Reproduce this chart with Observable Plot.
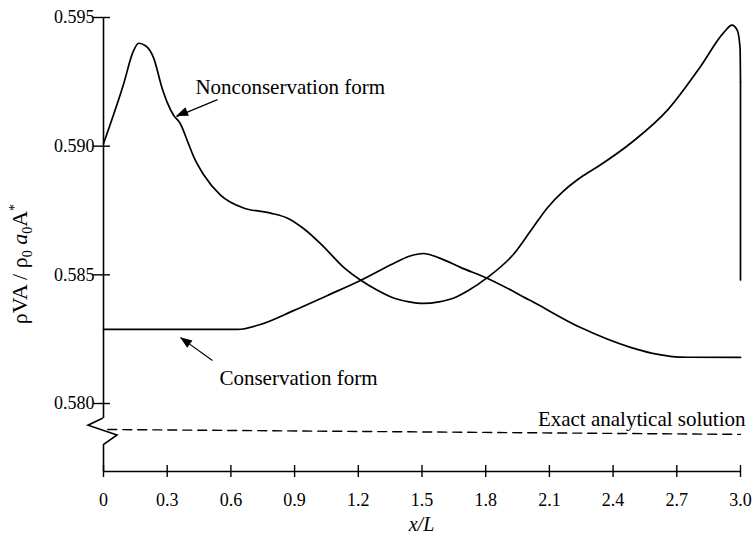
<!DOCTYPE html>
<html><head><meta charset="utf-8">
<script src="https://cdn.jsdelivr.net/npm/d3@7"></script>
<script src="https://cdn.jsdelivr.net/npm/@observablehq/plot@0.6"></script>
<style>
body{margin:0;background:#fff;}
#chart svg text{font-family:'Liberation Serif','Times New Roman',serif !important;}
</style>
</head><body><div id="chart"></div>
<script>
// Nonconservation form
const ncX = [0, 0.094, 0.141, 0.165, 0.198, 0.235, 0.278, 0.300, 0.330, 0.360, 0.400, 0.424, 0.471, 0.551, 0.659, 0.787, 0.867, 0.942, 1.036, 1.130, 1.210, 1.290, 1.366, 1.440, 1.507, 1.580, 1.650, 1.720, 1.809, 1.931, 2.011, 2.090, 2.166, 2.250, 2.327, 2.496, 2.656, 2.812, 2.920, 2.960, 2.985, 2.998, 3.0, 3.0];
const ncY = [0.5901, 0.5924, 0.5937, 0.5940, 0.5939, 0.59345, 0.5922, 0.5917, 0.5912, 0.5909, 0.5901, 0.5896, 0.5889, 0.5881, 0.5876, 0.5874, 0.5872, 0.5868, 0.5861, 0.5853, 0.5848, 0.5844, 0.5841, 0.58395, 0.58389, 0.58395, 0.5841, 0.5844, 0.5849, 0.5858, 0.5867, 0.5876, 0.58825, 0.5888, 0.5892, 0.5902, 0.5914, 0.5931, 0.5944, 0.5947, 0.5945, 0.5938, 0.5925, 0.5848];
// Conservation form
const cX = [0, 0.3, 0.631, 0.739, 0.895, 1.055, 1.210, 1.366, 1.440, 1.507, 1.580, 1.681, 1.809, 2.011, 2.247, 2.482, 2.580, 2.656, 2.720, 3.0];
const cY = [0.58288, 0.58288, 0.58288, 0.58307, 0.58361, 0.58420, 0.58478, 0.58544, 0.58572, 0.58583, 0.58566, 0.58529, 0.58486, 0.58400, 0.58295, 0.58218, 0.58196, 0.58185, 0.58180, 0.58179];
// Exact analytical solution
const exactX = [0.02, 3.0];
const exactY = [0.57899, 0.57880];

const xTicks = [0, 0.3, 0.6, 0.9, 1.2, 1.5, 1.8, 2.1, 2.4, 2.7, 3.0];
const xTickLabels = ["0", "0.3", "0.6", "0.9", "1.2", "1.5", "1.8", "2.1", "2.4", "2.7", "3.0"];
const yTicks = [0.580, 0.585, 0.590, 0.595];
const yTickLabels = ["0.580", "0.585", "0.590", "0.595"];

const labelTexts = ["Nonconservation form", "Conservation form", "Exact analytical solution"];

// ---- build tables ----
const nc = ncX.map((x, i) => ({x, y: ncY[i]}));
const cons = cX.map((x, i) => ({x, y: cY[i]}));
const exact = exactX.map((x, i) => ({x, y: exactY[i]}));

const FONT = "'Liberation Serif', 'Times New Roman', serif";
const yMin = 0.577358, yMax = 0.595;
const breakTop = 0.57942, breakBottom = 0.57837;

const annotations = [
  {x: 0.433, y: 0.59228, text: labelTexts[0], anchor: "start"},
  {x: 0.546, y: 0.58097, text: labelTexts[1], anchor: "start"},
  {x: 3.0, y: 0.57938, text: labelTexts[2], anchor: "end"}
];
const arrows = [
  {x1: 0.537, y1: 0.59181, x2: 0.344, y2: 0.59115},
  {x1: 0.513, y1: 0.58167, x2: 0.363, y2: 0.58256}
];

const plot = Plot.plot({
  width: 755,
  height: 541,
  marginLeft: 103,
  marginRight: 15,
  marginTop: 17,
  marginBottom: 70,
  x: {domain: [0, 3], axis: null},
  y: {domain: [yMin, yMax], axis: null},
  style: {background: "#fff", color: "#000", fontFamily: FONT},
  marks: [
    // axes lines
    Plot.ruleY([yMin], {stroke: "#000", strokeWidth: 1.6}),
    Plot.ruleX([0], {y1: breakTop, y2: yMax, stroke: "#000", strokeWidth: 1.6}),
    Plot.ruleX([0], {y1: yMin, y2: breakBottom, stroke: "#000", strokeWidth: 1.6}),
    // tick marks crossing the axes
    Plot.axisY({ticks: yTicks, tickSize: 17, dx: 7, tickFormat: () => "", stroke: "#000", strokeWidth: 1.4}),
    Plot.axisX({ticks: xTicks, tickSize: 12, dy: -6, tickFormat: () => "", stroke: "#000", strokeWidth: 1.4}),
    // tick labels
    Plot.axisY({ticks: yTicks, tickSize: 0, tickPadding: 9, fontSize: 18, fontFamily: FONT, fill: "#000",
      tickFormat: d => yTickLabels[yTicks.indexOf(d)]}),
    Plot.axisX({ticks: xTicks, tickSize: 0, tickPadding: 22, fontSize: 18, fontFamily: FONT, fill: "#000",
      tickFormat: d => xTickLabels[xTicks.indexOf(d)]}),
    // data
    Plot.line(exact, {x: "x", y: "y", stroke: "#000", strokeWidth: 1.4, strokeDasharray: "9,6"}),
    Plot.line(cons, {x: "x", y: "y", stroke: "#000", strokeWidth: 1.7, curve: "monotone-x"}),
    Plot.line(nc.slice(0, -1), {x: "x", y: "y", stroke: "#000", strokeWidth: 1.7, curve: "monotone-x"}),
    Plot.line(nc.slice(-2), {x: "x", y: "y", stroke: "#000", strokeWidth: 1.7}),
    // annotations
    Plot.link(arrows, {x1: "x1", y1: "y1", x2: "x2", y2: "y2", stroke: "#000", strokeWidth: 1.2}),
    Plot.text(annotations.filter(a => a.anchor === "start"), {x: "x", y: "y", text: "text", textAnchor: "start", fontSize: 21, fontFamily: FONT, fill: "#000"}),
    Plot.text(annotations.filter(a => a.anchor === "end"), {x: "x", y: "y", text: "text", textAnchor: "end", dx: 5, fontSize: 21, fontFamily: FONT, fill: "#000"})
  ]
});

document.getElementById("chart").appendChild(plot);

// ---- axis break zigzag, arrowheads and titles ----
const svg = d3.select(plot);
const xs = plot.scale("x"), ys = plot.scale("y");
const ax = xs.apply(0);
const yt = ys.apply(breakTop), yb = ys.apply(breakBottom);
const h = yb - yt;
svg.append("path")
  .attr("d", `M${ax},${yt} L${ax - 15},${yt + h * 0.27} L${ax + 14},${yt + h * 0.63} L${ax},${yb}`)
  .attr("fill", "none").attr("stroke", "#000").attr("stroke-width", 1.6);

for (const a of arrows) {
  const px1 = xs.apply(a.x1), py1 = ys.apply(a.y1);
  const px2 = xs.apply(a.x2), py2 = ys.apply(a.y2);
  const ang = Math.atan2(py2 - py1, px2 - px1);
  const L = 12, W = 4.5;
  const bx = px2 - L * Math.cos(ang), by = py2 - L * Math.sin(ang);
  const nx = -Math.sin(ang) * W, ny = Math.cos(ang) * W;
  svg.append("path")
    .attr("d", `M${px2},${py2} L${bx + nx},${by + ny} L${bx - nx},${by - ny} Z`)
    .attr("fill", "#000");
}

const yt2 = svg.append("text")
  .attr("transform", `translate(27,${ys.apply(0.5854)}) rotate(-90)`)
  .attr("text-anchor", "middle").attr("font-size", 22).attr("fill", "#000")
  .attr("font-family", FONT);
yt2.append("tspan").text("ρVA / ρ");
yt2.append("tspan").attr("font-size", 14).attr("dy", 5).text("0");
yt2.append("tspan").attr("dy", -5).text(" ");
yt2.append("tspan").attr("font-style", "italic").text("a");
yt2.append("tspan").attr("font-size", 14).attr("dy", 5).text("0");
yt2.append("tspan").attr("dy", -5).text("A");
yt2.append("tspan").attr("font-size", 14).attr("dy", -8).text("*");

svg.append("text")
  .attr("x", xs.apply(1.5)).attr("y", 531)
  .attr("text-anchor", "middle").attr("font-size", 20).attr("font-style", "italic").attr("fill", "#000")
  .attr("font-family", FONT)
  .text("x/L");
</script>
</body></html>
